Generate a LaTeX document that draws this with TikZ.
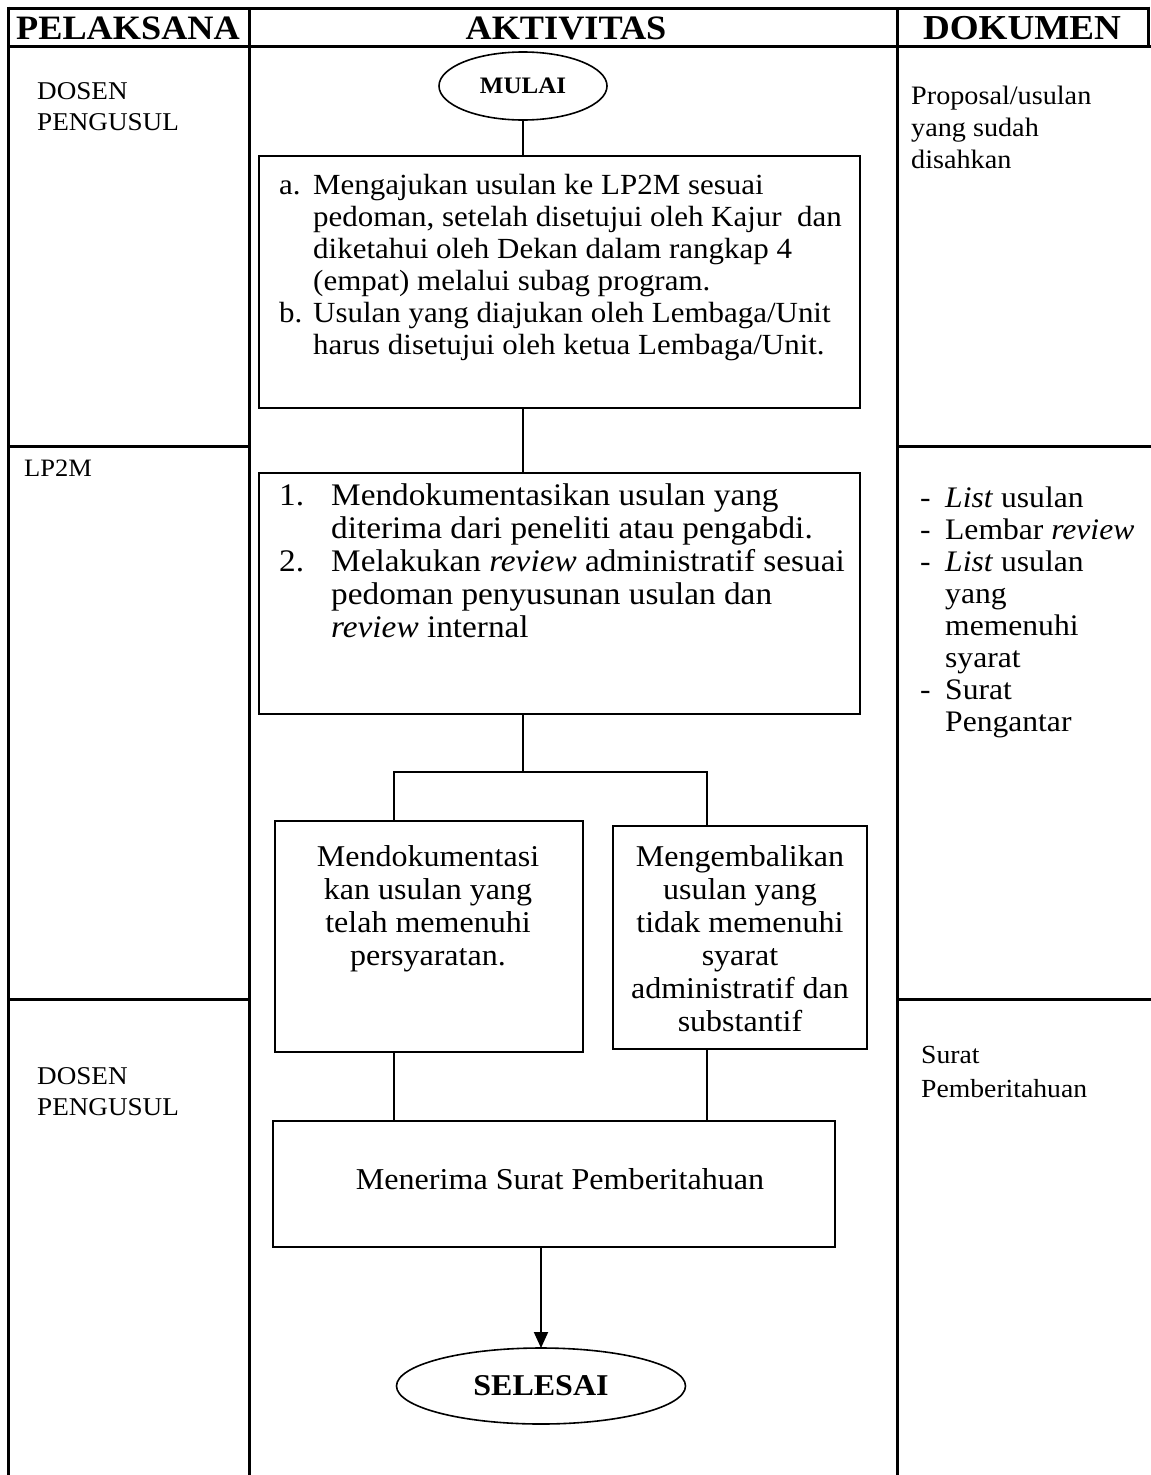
\documentclass[tikz,border=0pt]{standalone}
\usepackage{fontspec}
\setmainfont{Liberation Serif}[FakeStretch=1.06]
\usetikzlibrary{shapes.geometric,arrows.meta}
\begin{document}
\begin{tikzpicture}[x=1pt,y=-1pt,
  grid/.style={line width=3pt},
  box/.style={draw,line width=2pt,inner sep=0pt,outer sep=0pt},
  oval/.style={draw,ellipse,line width=1.6pt,inner sep=0pt,outer sep=0pt},
  link/.style={line width=2pt},
  head/.style={font=\fontsize{34.2}{36}\selectfont\bfseries,anchor=base},
  txt/.style={anchor=base west,inner sep=0pt},
  ctxt/.style={anchor=base,inner sep=0pt}
]
\useasboundingbox (0,0) rectangle (1151,1475);

% table rules
\draw[grid] (8,8) -- (1148,8);
\draw[grid] (8,46) -- (1151,46);
\draw[grid] (8,6.5) -- (8,1475);
\draw[grid] (249,8) -- (249,1475);
\draw[grid] (897,8) -- (897,1475);
\draw[grid] (1148,6.5) -- (1148,46);
\draw[grid] (8,446) -- (249,446);
\draw[grid] (897,446) -- (1151,446);
\draw[grid] (8,999) -- (249,999);
\draw[grid] (897,999) -- (1151,999);

% column headings
\node[head] (hPel) at (128,39) {PELAKSANA};
\node[head] (hAkt) at (566,39) {AKTIVITAS};
\node[head,font=\fontsize{35}{36}\selectfont\bfseries] (hDok) at (1022,39) {DOKUMEN};

% actors
\node[txt,font=\fontsize{25.6}{31}\selectfont] (who1) at (37,99)
  {\begin{tabular}[t]{@{}l@{}}DOSEN\\PENGUSUL\end{tabular}};
\node[txt,font=\fontsize{25}{31}\selectfont] (who2) at (24,476) {LP2M};
\node[txt,font=\fontsize{25.6}{31}\selectfont] (who3) at (37,1084)
  {\begin{tabular}[t]{@{}l@{}}DOSEN\\PENGUSUL\end{tabular}};

% documents
\node[txt,font=\fontsize{26.6}{32}\selectfont] (doc1) at (911,104)
  {\begin{tabular}[t]{@{}l@{}}Proposal/usulan\\yang sudah\\disahkan\end{tabular}};
\node[txt,font=\fontsize{29.8}{32}\selectfont] (doc2) at (920,507)
  {\begin{tabular}[t]{@{}p{25pt}@{}l@{}}
- & \textit{List} usulan\\
- & Lembar \textit{review}\\
- & \textit{List} usulan\\
  & yang\\
  & memenuhi\\
  & syarat\\
- & Surat\\
  & Pengantar
\end{tabular}};
\node[txt,font=\fontsize{26.1}{34}\selectfont] (doc3) at (921,1063)
  {\begin{tabular}[t]{@{}l@{}}Surat\\Pemberitahuan\end{tabular}};

% flow
\node[oval,minimum width=168,minimum height=68,font=\fontsize{23.6}{26}\selectfont\bfseries] (start) at (523,86) {MULAI};

\node[box,minimum width=601,minimum height=252] (boxA) at (559.5,282) {};
\node[txt,font=\fontsize{29.2}{32}\selectfont] (txtA) at (279,194)
  {\begin{tabular}[t]{@{}p{34pt}@{}l@{}}
a. & Mengajukan usulan ke LP2M sesuai\\
   & pedoman, setelah disetujui oleh Kajur\ \ dan\\
   & diketahui oleh Dekan dalam rangkap 4\\
   & (empat) melalui subag program.\\
b. & Usulan yang diajukan oleh Lembaga/Unit\\
   & harus disetujui oleh ketua Lembaga/Unit.
\end{tabular}};

\node[box,minimum width=601,minimum height=241] (boxB) at (559.5,593.5) {};
\node[txt,font=\fontsize{31.4}{33}\selectfont] (txtB) at (279,505)
  {\begin{tabular}[t]{@{}p{52pt}@{}l@{}}
1. & Mendokumentasikan usulan yang\\
   & diterima dari peneliti atau pengabdi.\\
2. & Melakukan \textit{review} administratif sesuai\\
   & pedoman penyusunan usulan dan\\
   & \textit{review} internal
\end{tabular}};

\node[box,minimum width=308,minimum height=231] (boxL) at (429,936.5) {};
\node[ctxt,font=\fontsize{30.2}{33}\selectfont] (txtL) at (428,866)
  {\begin{tabular}[t]{@{}c@{}}Mendokumentasi\\kan usulan yang\\telah memenuhi\\persyaratan.\end{tabular}};

\node[box,minimum width=254,minimum height=223] (boxR) at (740,937.5) {};
\node[ctxt,font=\fontsize{30.2}{33}\selectfont] (txtR) at (740,866)
  {\begin{tabular}[t]{@{}c@{}}Mengembalikan\\usulan yang\\tidak memenuhi\\syarat\\administratif dan\\substantif\end{tabular}};

\node[box,minimum width=562,minimum height=126] (recv) at (554,1184) {};
\node[ctxt,font=\fontsize{30.3}{33}\selectfont] (txtRecv) at (560,1189) {Menerima Surat Pemberitahuan};

\node[oval,minimum width=289,minimum height=76,font=\fontsize{30.2}{32}\selectfont\bfseries] (stop) at (541,1386) {SELESAI};

% connectors
\coordinate (jl) at (394,772);
\coordinate (jr) at (707,772);
\draw[link] (start.south) -- (start |- boxA.north);
\draw[link] (boxA.south -| start) -- (boxB.north -| start);
\draw[link] (boxB.south -| start) -- (start |- jl);
\draw[link] (jl |- boxL.north) -- (jl) -- (jr) -- (jr |- boxR.north);
\draw[link] (jl |- boxL.south) -- (jl |- recv.north);
\draw[link] (jr |- boxR.south) -- (jr |- recv.north);
\draw[link,-{Triangle[length=16pt,width=14pt]}] (recv.south -| stop) -- (stop.north);
\end{tikzpicture}
\end{document}
